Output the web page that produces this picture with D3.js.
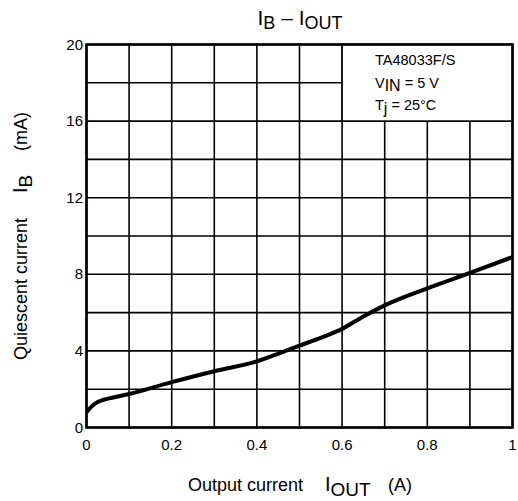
<!DOCTYPE html>
<html>
<head>
<meta charset="utf-8">
<script src="https://cdn.jsdelivr.net/npm/d3@7"></script>
<style>
  body { margin: 0; background: #fff; }
  text { font-family: "Liberation Sans", Arial, sans-serif; fill: #000; white-space: pre; }
</style>
</head>
<body>
<svg width="518" height="501"></svg>
<script>
var ioutValues = [0, 0.01, 0.02, 0.04, 0.06, 0.1, 0.2, 0.3, 0.4, 0.45, 0.5, 0.55, 0.6, 0.65, 0.7, 0.8, 0.9, 1.0];
var ibValues = [0.8, 1.05, 1.25, 1.45, 1.55, 1.75, 2.37, 2.94, 3.45, 3.85, 4.28, 4.68, 5.15, 5.8, 6.38, 7.27, 8.07, 8.9];
var xTicks = [0, 0.2, 0.4, 0.6, 0.8, 1];
var yTicks = [0, 4, 8, 12, 16, 20];
var xGrid = d3.range(0, 11).map(function(d) { return d / 10; });
var yGrid = d3.range(0, 21, 2);
var legendLines = ["TA48033F/S", "V|IN| = 5 V", "T|j| = 25°C"];

var svg = d3.select("svg");
var plotL = 86.5, plotR = 512.5, plotT = 44.5, plotB = 427.5;

var x = d3.scaleLinear().domain([0, 1]).range([plotL, plotR]);
var y = d3.scaleLinear().domain([0, 20]).range([plotB, plotT]);

// grid
svg.append("g").selectAll("line").data(xGrid).enter().append("line")
   .attr("x1", function(d) { return x(d); }).attr("x2", function(d) { return x(d); })
   .attr("y1", plotT).attr("y2", plotB)
   .attr("stroke", "#000").attr("stroke-width", 1.6);
svg.append("g").selectAll("line").data(yGrid).enter().append("line")
   .attr("x1", plotL).attr("x2", plotR)
   .attr("y1", function(d) { return y(d); }).attr("y2", function(d) { return y(d); })
   .attr("stroke", "#000").attr("stroke-width", 1.6);

// legend box covers grid
svg.append("rect")
   .attr("x", x(0.6)).attr("y", plotT)
   .attr("width", plotR - x(0.6)).attr("height", y(16) - plotT)
   .attr("fill", "#fff").attr("stroke", "#000").attr("stroke-width", 1.6);

function richText(g, str, xp, yp, size) {
    var t = g.append("text").attr("x", xp).attr("y", yp).attr("font-size", size);
    var parts = str.split("|");
    parts.forEach(function(p, i) {
        if (!p) return;
        var ts = t.append("tspan").text(p);
        if (i % 2 === 1) ts.attr("dy", size * 0.25).attr("font-size", size * 1.1);
        else if (i > 0) ts.attr("dy", -size * 0.25);
    });
    return t;
}

legendLines.forEach(function(s, i) {
    richText(svg, s, 375, 65 + i * 22.5, 14.5);
});

// curve
var line = d3.line()
    .x(function(d) { return x(d[0]); })
    .y(function(d) { return y(d[1]); })
    .curve(d3.curveMonotoneX);
svg.append("path")
   .datum(d3.zip(ioutValues, ibValues))
   .attr("d", line)
   .attr("fill", "none").attr("stroke", "#000").attr("stroke-width", 4)
   .attr("stroke-linejoin", "round");

// frame
svg.append("rect")
   .attr("x", plotL).attr("y", plotT)
   .attr("width", plotR - plotL).attr("height", plotB - plotT)
   .attr("fill", "none").attr("stroke", "#000").attr("stroke-width", 2.6);

// tick labels
svg.append("g").selectAll("text").data(xTicks).enter().append("text")
   .attr("x", function(d) { return x(d); }).attr("y", 450)
   .attr("text-anchor", "middle").attr("font-size", 15)
   .text(function(d) { return d; });
svg.append("g").selectAll("text").data(yTicks).enter().append("text")
   .attr("x", 83).attr("y", function(d) { return y(d) + 5; })
   .attr("text-anchor", "end").attr("font-size", 15)
   .text(function(d) { return d; });

// title
var title = svg.append("text").attr("x", 300).attr("y", 25).attr("text-anchor", "middle").attr("font-size", 21);
title.append("tspan").text("I");
title.append("tspan").attr("font-size", 18).attr("dy", 4).text("B");
title.append("tspan").attr("dy", -4).text(" – I");
title.append("tspan").attr("font-size", 18).attr("dy", 4).text("OUT");

// x axis title
var xt = svg.append("g").attr("font-size", 18);
xt.append("text").attr("x", 188).attr("y", 491).text("Output current");
var xi = xt.append("text").attr("x", 325).attr("y", 491);
xi.append("tspan").attr("font-size", 20).text("I");
xi.append("tspan").attr("font-size", 19).attr("dy", 5).text("OUT");
xt.append("text").attr("x", 388).attr("y", 491).text("(A)");

// y axis title
var yt = svg.append("g").attr("font-size", 18).attr("transform", "translate(27,0) rotate(-90)");
yt.append("text").attr("x", -360).attr("y", 0).text("Quiescent current");
var yi = yt.append("text").attr("x", -193).attr("y", 0);
yi.append("tspan").attr("font-size", 20).text("I");
yi.append("tspan").attr("font-size", 19).attr("dy", 5).text("B");
yt.append("text").attr("x", -151).attr("y", 0).text("(mA)");
</script>
</body>
</html>
